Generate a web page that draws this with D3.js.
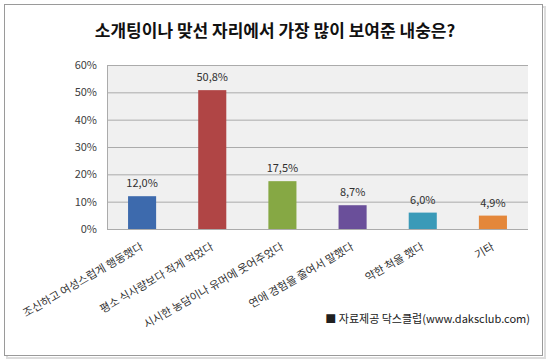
<!DOCTYPE html>
<html><head><meta charset="utf-8">
<script src="https://cdn.jsdelivr.net/npm/d3@7"></script>
<style>body{margin:0;background:#fff;} text{font-family:"Noto Sans CJK KR","Noto Sans",sans-serif;}</style>
</head><body>
<svg id="c" width="550" height="361"></svg>
<script>
const title = "소개팅이나 맞선 자리에서 가장 많이 보여준 내숭은?";
const categories = ["조신하고 여성스럽게 행동했다","평소 식사량보다 적게 먹었다","시시한 농담이나 유머에 웃어주었다","연애 경험을 줄여서 말했다","약한 척을 했다","기타"];
const values = [12.0, 50.8, 17.5, 8.7, 6.0, 4.9];
const valueLabels = ["12,0%","50,8%","17,5%","8,7%","6,0%","4,9%"];
const colors = ["#3d6aad","#b04545","#86a844","#6a4f9a","#3a9ab8","#e4873a"];
const yTicks = [0,10,20,30,40,50,60];
const source = "■ 자료제공 닥스클럽(www.daksclub.com)";

const svg = d3.select("#c");
svg.append("rect").attr("x",7).attr("y",7).attr("width",538).attr("height",351).attr("fill","none").attr("stroke","#dcdcdc").attr("stroke-width",2);
svg.append("rect").attr("x",4.5).attr("y",4.5).attr("width",538).attr("height",351).attr("fill","#fff").attr("stroke","#9a9a9a");

const L=107,R=528,T=65,B=229;
const x = d3.scaleBand().domain(categories).range([L,R]).paddingInner(0.6).paddingOuter(0.3);
const y = d3.scaleLinear().domain([0,60]).range([B,T]);

svg.append("rect").attr("x",L).attr("y",T).attr("width",R-L).attr("height",B-T).attr("fill","#f0f0f0");
svg.append("g").selectAll("line").data(yTicks).join("line")
  .attr("x1",L).attr("x2",R).attr("y1",d=>y(d)+0.5).attr("y2",d=>y(d)+0.5)
  .attr("stroke","#ababab");
svg.append("line").attr("x1",L+0.5).attr("x2",L+0.5).attr("y1",T).attr("y2",B).attr("stroke","#ababab");

const yAxis = d3.axisLeft(y).tickValues(yTicks).tickFormat(d=>d+"%").tickSize(0).tickPadding(10);
const ga = svg.append("g").attr("transform",`translate(${L},0)`).call(yAxis);
ga.select(".domain").remove();
ga.selectAll("text").attr("font-size",11).attr("fill","#404040");

svg.append("g").selectAll("rect").data(values).join("rect")
  .attr("x",(d,i)=>x(categories[i])).attr("width",x.bandwidth())
  .attr("y",d=>y(d)).attr("height",d=>B-y(d))
  .attr("fill",(d,i)=>colors[i]);

svg.append("g").selectAll("text").data(values).join("text")
  .attr("x",(d,i)=>x(categories[i])+x.bandwidth()/2).attr("y",d=>y(d)-9)
  .attr("text-anchor","middle").attr("font-size",11).attr("fill","#303030")
  .text((d,i)=>valueLabels[i]);

const xAxis = d3.axisBottom(x).tickSize(0).tickPadding(0);
const gx = svg.append("g").attr("transform",`translate(0,${B})`).call(xAxis);
gx.select(".domain").remove();
gx.selectAll(".tick text").attr("font-size",11).attr("fill","#303030")
  .attr("text-anchor","end").attr("dy",0).attr("y",0)
  .attr("transform","translate(2,20) rotate(-30)");

svg.append("text").attr("x",275).attr("y",37).attr("text-anchor","middle")
  .attr("font-size",17).attr("font-weight","bold").attr("fill","#111").text(title);
svg.append("text").attr("x",530).attr("y",323).attr("text-anchor","end")
  .attr("font-size",11).attr("fill","#202020").text(source);
</script>
</body></html>
